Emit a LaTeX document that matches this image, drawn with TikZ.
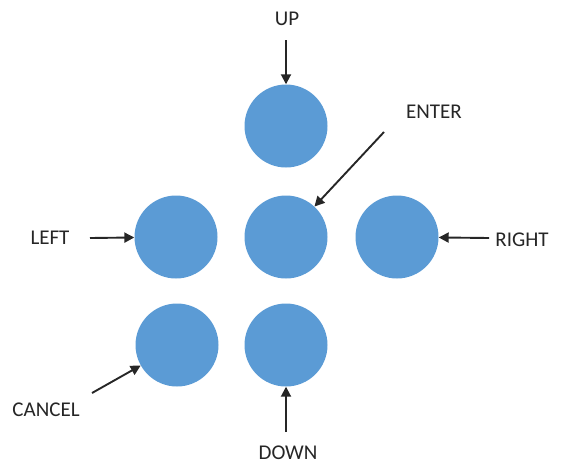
\documentclass[tikz,border=0pt]{standalone}
\usepackage{fontspec}
\setmainfont{Carlito}
\usetikzlibrary{arrows.meta}
\definecolor{btnblue}{HTML}{5B9BD5}
\definecolor{arrgray}{HTML}{262626}
\begin{document}
\begin{tikzpicture}[x=1pt,y=-1pt,
  btn/.style={circle,fill=btnblue,minimum size=83pt,inner sep=0pt},
  lbl/.style={font=\fontsize{21}{24}\selectfont,text=arrgray,inner sep=0pt},
  arr/.style={draw=arrgray,line width=1.9pt,-{Triangle[length=10pt,width=10pt]}}]
\useasboundingbox (0,0) rectangle (561,466);
\node[btn] (up) at (286,126) {};
\node[btn] (enter) at (286,237) {};
\node[btn] (left) at (176,237) {};
\node[btn] (right) at (397,237) {};
\node[btn] (cancel) at (177,345) {};
\node[btn] (down) at (286,345) {};
\node[lbl] (tup) at (287,19) {UP};
\node[lbl] (tenter) at (434,112) {ENTER};
\node[lbl] (tleft) at (50,238) {LEFT};
\node[lbl] (tright) at (522,240) {RIGHT};
\node[lbl] (tcancel) at (46,410) {CANCEL};
\node[lbl] (tdown) at (288,453) {DOWN};
\coordinate (aup) at (286,40);
\coordinate (aenter) at (384,132);
\coordinate (aleft) at (90,238);
\coordinate (aright) at (489,238);
\coordinate (acancel) at (92,393);
\coordinate (adown) at (286,432);
\draw[arr] (aup) -- (up);
\draw[arr] (aenter) -- (enter);
\draw[arr] (aleft) -- (left);
\draw[arr] (aright) -- (right);
\draw[arr] (acancel) -- (cancel);
\draw[arr] (adown) -- (down);
\end{tikzpicture}
\end{document}
